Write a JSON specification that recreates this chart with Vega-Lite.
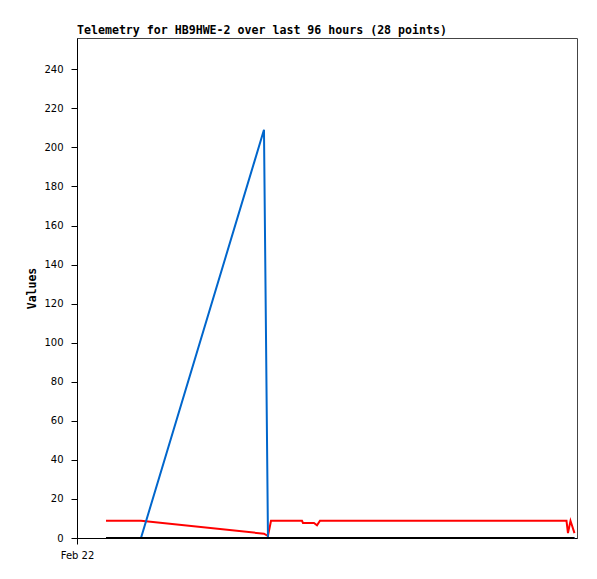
{
  "$schema": "https://vega.github.io/schema/vega-lite/v6.json",
  "width": 500,
  "height": 500,
  "autosize": {"type": "none"},
  "padding": {"left": 77, "top": 38, "right": 20, "bottom": 41},
  "background": "white",
  "config": {
    "view": {"stroke": "#444", "strokeWidth": 1},
    "axis": {"grid": false, "domainColor": "black", "tickColor": "black", "labelColor": "black", "labelFont": "DejaVu Sans", "labelFontSize": 10, "titleFont": "DejaVu Sans Mono", "titleFontWeight": "bold", "titleFontSize": 11.5, "titleColor": "black"}
  },
  "title": {
    "text": "Telemetry for HB9HWE-2 over last 96 hours (28 points)",
    "anchor": "start",
    "frame": "group",
    "font": "DejaVu Sans Mono",
    "fontWeight": "bold",
    "fontSize": 11.6,
    "color": "black",
    "baseline": "alphabetic",
    "offset": 4,
    "dy": 12
  },
  "data": {
    "values": [
      {"t": "2024-02-22T05:34:00", "red": 8.8, "blue": 0, "black": 0},
      {"t": "2024-02-22T12:17:00", "red": 8.8, "blue": 0, "black": 0},
      {"t": "2024-02-23T11:54:00", "red": 2.2, "blue": 209, "black": 0},
      {"t": "2024-02-23T12:40:00", "red": 1.0, "blue": 0, "black": 0},
      {"t": "2024-02-23T13:15:00", "red": 8.8, "blue": 0, "black": 0},
      {"t": "2024-02-23T15:56:00", "red": 8.8, "blue": 0, "black": 0},
      {"t": "2024-02-23T19:12:00", "red": 8.8, "blue": 0, "black": 0},
      {"t": "2024-02-23T19:23:00", "red": 7.7, "blue": 0, "black": 0},
      {"t": "2024-02-23T21:30:00", "red": 7.7, "blue": 0, "black": 0},
      {"t": "2024-02-23T22:05:00", "red": 6.5, "blue": 0, "black": 0},
      {"t": "2024-02-23T22:39:00", "red": 8.8, "blue": 0, "black": 0},
      {"t": "2024-02-24T02:30:00", "red": 8.8, "blue": 0, "black": 0},
      {"t": "2024-02-24T06:20:00", "red": 8.8, "blue": 0, "black": 0},
      {"t": "2024-02-24T10:11:00", "red": 8.8, "blue": 0, "black": 0},
      {"t": "2024-02-24T14:01:00", "red": 8.8, "blue": 0, "black": 0},
      {"t": "2024-02-24T17:52:00", "red": 8.8, "blue": 0, "black": 0},
      {"t": "2024-02-24T21:42:00", "red": 8.8, "blue": 0, "black": 0},
      {"t": "2024-02-25T01:32:00", "red": 8.8, "blue": 0, "black": 0},
      {"t": "2024-02-25T05:23:00", "red": 8.8, "blue": 0, "black": 0},
      {"t": "2024-02-25T09:13:00", "red": 8.8, "blue": 0, "black": 0},
      {"t": "2024-02-25T13:04:00", "red": 8.8, "blue": 0, "black": 0},
      {"t": "2024-02-25T15:56:00", "red": 8.8, "blue": 0, "black": 0},
      {"t": "2024-02-25T18:49:00", "red": 8.8, "blue": 0, "black": 0},
      {"t": "2024-02-25T20:44:00", "red": 8.8, "blue": 0, "black": 0},
      {"t": "2024-02-25T21:59:00", "red": 8.8, "blue": 0, "black": 0},
      {"t": "2024-02-25T22:16:00", "red": 2.5, "blue": 0, "black": 0},
      {"t": "2024-02-25T22:45:00", "red": 8.8, "blue": 0, "black": 0},
      {"t": "2024-02-25T23:31:00", "red": 2.5, "blue": 0, "black": 0}
    ]
  },
  "encoding": {
    "x": {
      "field": "t",
      "type": "temporal",
      "scale": {"domain": [{"year": 2024, "month": 2, "date": 22}, {"year": 2024, "month": 2, "date": 26}]},
      "axis": {"title": null, "values": [{"year": 2024, "month": 2, "date": 22}], "format": "%b %d", "tickSize": 6, "labelPadding": 6, "labelAlign": "center", "labelFlush": false}
    }
  },
  "layer": [
    {
      "mark": {"type": "line", "color": "#ff0000", "strokeWidth": 2},
      "encoding": {
        "y": {
          "field": "red",
          "type": "quantitative",
          "scale": {"domain": [0, 256], "nice": false, "zero": true},
          "axis": {"title": "Values", "values": [0, 20, 40, 60, 80, 100, 120, 140, 160, 180, 200, 220, 240], "tickSize": 6, "labelPadding": 8, "titleAngle": -90, "titleX": -42, "titleY": 250, "titleAlign": "center", "titleBaseline": "alphabetic"}
        }
      }
    },
    {
      "mark": {"type": "line", "color": "#0066cc", "strokeWidth": 2},
      "encoding": {"y": {"field": "blue", "type": "quantitative"}}
    },
    {
      "mark": {"type": "line", "color": "#000000", "strokeWidth": 2},
      "encoding": {"y": {"field": "black", "type": "quantitative"}}
    }
  ]
}
